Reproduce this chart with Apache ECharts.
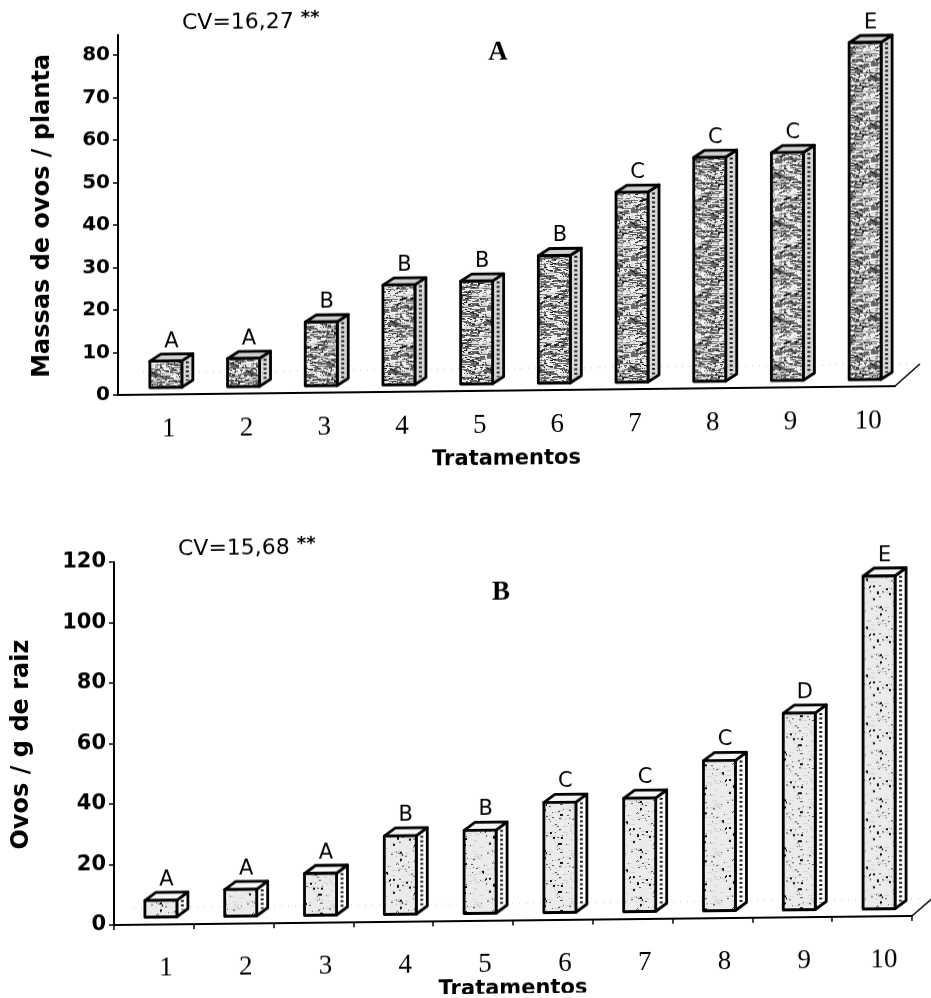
<!DOCTYPE html>
<html>
<head>
<meta charset="utf-8">
<script src="https://cdn.jsdelivr.net/npm/echarts@6/dist/echarts.min.js"></script>
<style>
  html, body { margin: 0; padding: 0; background: #fff; }
  #chart { width: 931px; height: 998px; transform: skewY(-0.65deg); transform-origin: 116px 0; }
</style>
</head>
<body>
<div id="chart"></div>
<script>
// Treatments on the x axis
const categories = ['1', '2', '3', '4', '5', '6', '7', '8', '9', '10'];

// Panel A: egg masses per plant, with the mean-comparison letters
const massasValues = [6.2, 6.6, 15.0, 23.5, 24.2, 30.0, 44.7, 52.7, 53.6, 79.3];
const massasLetters = ['A', 'A', 'B', 'B', 'B', 'B', 'C', 'C', 'C', 'E'];
const massasTicks = [0, 10, 20, 30, 40, 50, 60, 70, 80];
const massasCV = 'CV=16,27';

// Panel B: eggs per gram of root, with the mean-comparison letters
const ovosValues = [5.5, 8.8, 13.8, 25.9, 27.5, 36.4, 37.5, 49.6, 65.0, 110.0];
const ovosLetters = ['A', 'A', 'A', 'B', 'B', 'C', 'C', 'C', 'D', 'E'];
const ovosTicks = [0, 20, 40, 60, 80, 100, 120];
const ovosCV = 'CV=15,68';

// Layout of the two plot areas
const gridA = { left: 118, top: 35, width: 777, height: 360 };
const gridB = { left: 114, top: 562, width: 798, height: 363 };

// Deterministic speckle textures for the column faces
function makeTexture(size, base, marks, seed) {
  const c = document.createElement('canvas');
  c.width = size; c.height = size;
  const g = c.getContext('2d');
  g.fillStyle = base;
  g.fillRect(0, 0, size, size);
  let s = seed;
  const rnd = () => { s = (s * 1103515245 + 12345) % 2147483648; return s / 2147483648; };
  marks.forEach(m => {
    g.fillStyle = m.color;
    for (let k = 0; k < m.count; k++) {
      const x = Math.floor(rnd() * size);
      const y = Math.floor(rnd() * size);
      const w = m.minW + Math.floor(rnd() * (m.maxW - m.minW + 1));
      g.fillRect(x, y, w, m.h);
      if (x + w > size) g.fillRect(x - size, y, w, m.h);
    }
  });
  return { image: c, repeat: 'repeat' };
}

const darkFront = makeTexture(48, '#666666', [
  { color: '#f2f2f2', count: 250, minW: 2, maxW: 9, h: 1 },
  { color: '#d6d6d6', count: 110, minW: 1, maxW: 3, h: 2 },
  { color: '#1a1a1a', count: 110, minW: 1, maxW: 3, h: 1 }
], 7);
const lightFront = makeTexture(48, '#ebebeb', [
  { color: '#555555', count: 45, minW: 1, maxW: 2, h: 1 },
  { color: '#111111', count: 18, minW: 1, maxW: 2, h: 2 },
  { color: '#d2d2d2', count: 60, minW: 2, maxW: 5, h: 1 }
], 11);

const lookA = { w: 32, shift: 9, lift: 7, dx: 11, dy: 7, front: darkFront, side: '#d8d8d8', top: '#d0d0d0', mark: '#222' };
const lookB = { w: 32, shift: 7, lift: 7.5, dx: 11, dy: 8, front: lightFront, side: '#ffffff', top: '#f6f6f6', mark: '#222' };

// 3-D style column: front face from the value scale, plus top and side faces
function bar3d(letters, look) {
  return function (params, api) {
    const i = api.value(0);
    const base = api.coord([i, 0]);
    const tip = api.coord([i, api.value(1)]);
    const h = base[1] - tip[1];
    const cx = base[0] + look.shift;
    const L = cx - look.w / 2, R = cx + look.w / 2;
    const B = base[1] - look.lift, T = B - h;
    const dx = look.dx, dy = look.dy;
    const edge = { stroke: '#000', lineWidth: 2.8, lineJoin: 'round' };
    return {
      type: 'group',
      children: [
        { type: 'polygon', shape: { points: [[R, T], [R + dx, T - dy], [R + dx, B - dy], [R, B]] },
          style: Object.assign({ fill: look.side }, edge) },
        { type: 'line', shape: { x1: R + dx / 2, y1: T - dy / 2 + 4, x2: R + dx / 2, y2: B - dy / 2 - 3 },
          style: { stroke: look.mark, lineWidth: 3, lineDash: [2, 2.5] } },
        { type: 'polygon', shape: { points: [[L, T], [L + dx, T - dy], [R + dx, T - dy], [R, T]] },
          style: Object.assign({ fill: look.top }, edge) },
        { type: 'rect', shape: { x: L, y: T, width: look.w, height: h },
          style: Object.assign({ fill: look.front }, edge) },
        { type: 'text',
          style: { text: letters[params.dataIndex], x: cx + dx / 2, y: T - dy - 2,
                   align: 'center', verticalAlign: 'bottom',
                   font: '21px "DejaVu Sans"', fill: '#000' } }
      ]
    };
  };
}

function yAxisFor(gridIndex, max, interval, ticks, name, labelSize, nameGap) {
  return {
    gridIndex: gridIndex, type: 'value', min: 0, max: max, interval: interval,
    axisLine: { show: true, lineStyle: { color: '#000', width: 2 } },
    axisTick: { show: true, length: 5, customValues: ticks, lineStyle: { color: '#000', width: 1.5 } },
    axisLabel: { customValues: ticks, margin: 8, color: '#000',
                 fontFamily: 'DejaVu Sans', fontWeight: 'bold', fontSize: labelSize },
    splitLine: { show: false },
    name: name, nameLocation: 'middle', nameRotate: 90, nameGap: nameGap,
    nameTextStyle: { fontFamily: 'DejaVu Sans', fontWeight: 'bold', fontSize: 24, color: '#000' }
  };
}

function xAxisFor(gridIndex, showTicks, labelMargin, nameGap) {
  return {
    gridIndex: gridIndex, type: 'category', data: categories,
    axisLine: { show: true, lineStyle: { color: '#000', width: 2 } },
    axisTick: { show: showTicks, length: 5, lineStyle: { color: '#000', width: 1.5 } },
    axisLabel: { margin: labelMargin, padding: [0, 0, 0, 24], color: '#000',
                 fontFamily: 'Liberation Serif', fontSize: 27 },
    name: 'Tratamentos', nameLocation: 'middle', nameGap: nameGap,
    nameTextStyle: { fontFamily: 'DejaVu Sans', fontWeight: 'bold', fontSize: 21, color: '#000' }
  };
}

const chart = echarts.init(document.getElementById('chart'), null, { renderer: 'canvas' });

const yA0 = gridA.top + gridA.height;
const xA1 = gridA.left + gridA.width;
const yB0 = gridB.top + gridB.height;
const xB1 = gridB.left + gridB.width;

chart.setOption({
  backgroundColor: '#ffffff',
  animation: false,
  grid: [
    Object.assign({ containLabel: false, outerBoundsMode: 'none' }, gridA),
    Object.assign({ containLabel: false, outerBoundsMode: 'none' }, gridB)
  ],
  xAxis: [
    xAxisFor(0, false, 21, 58),
    xAxisFor(1, true, 30, 52)
  ],
  yAxis: [
    yAxisFor(0, gridA.height / 4.25, 10, massasTicks, 'Massas de ovos / planta', 20, 63),
    yAxisFor(1, 120, 20, ovosTicks, 'Ovos / g de raiz', 21, 80)
  ],
  graphic: [
    // floor depth: right edge and faint back edge
    { type: 'line', shape: { x1: xA1, y1: yA0, x2: xA1 + 25, y2: yA0 - 22 }, style: { stroke: '#000', lineWidth: 1.5 } },
    { type: 'line', shape: { x1: gridA.left + 25, y1: yA0 - 22, x2: xA1 + 25, y2: yA0 - 22 }, style: { stroke: '#c4c4c4', lineWidth: 1, lineDash: [1, 6] }, z: -1 },
    { type: 'line', shape: { x1: xB1, y1: yB0, x2: xB1 + 20, y2: yB0 - 17 }, style: { stroke: '#000', lineWidth: 1.5 } },
    { type: 'line', shape: { x1: gridB.left + 20, y1: yB0 - 17, x2: xB1 + 20, y2: yB0 - 17 }, style: { stroke: '#c4c4c4', lineWidth: 1, lineDash: [1, 6] }, z: -1 },
    // coefficient of variation notes
    { type: 'text', x: 182, y: 24,
      style: { text: massasCV + ' {s|**}', font: '22px "DejaVu Sans"', fill: '#000', verticalAlign: 'middle',
               rich: { s: { fontSize: 18, fontWeight: 'bold', fontFamily: 'DejaVu Sans', verticalAlign: 'top', padding: [0, 0, 8, 0] } } } },
    { type: 'text', x: 178, y: 550,
      style: { text: ovosCV + ' {s|**}', font: '22px "DejaVu Sans"', fill: '#000', verticalAlign: 'middle',
               rich: { s: { fontSize: 18, fontWeight: 'bold', fontFamily: 'DejaVu Sans', verticalAlign: 'top', padding: [0, 0, 8, 0] } } } },
    // panel letters
    { type: 'text', x: 498, y: 57,
      style: { text: 'A', font: 'bold 27px "Liberation Serif"', fill: '#000', align: 'center', verticalAlign: 'middle' } },
    { type: 'text', x: 501, y: 597,
      style: { text: 'B', font: 'bold 27px "Liberation Serif"', fill: '#000', align: 'center', verticalAlign: 'middle' } }
  ],
  series: [
    { type: 'custom', xAxisIndex: 0, yAxisIndex: 0, clip: false,
      renderItem: bar3d(massasLetters, lookA), encode: { x: 0, y: 1 },
      data: massasValues.map((v, i) => [i, v]) },
    { type: 'custom', xAxisIndex: 1, yAxisIndex: 1, clip: false,
      renderItem: bar3d(ovosLetters, lookB), encode: { x: 0, y: 1 },
      data: ovosValues.map((v, i) => [i, v]) }
  ]
});
</script>
</body>
</html>
